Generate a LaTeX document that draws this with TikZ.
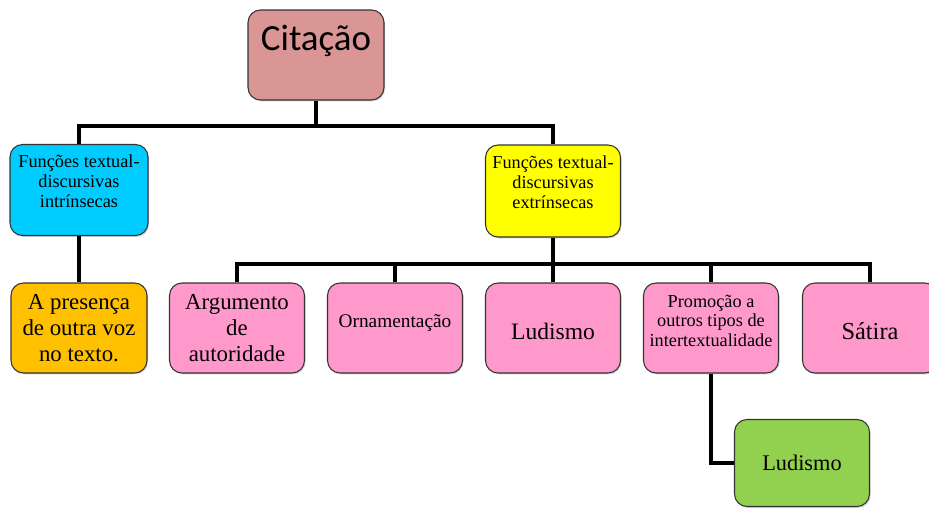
\documentclass[tikz,border=0pt]{standalone}
\usepackage{fontspec}
\setmainfont{Liberation Serif}
\newfontfamily\titlefont{Carlito}
\usetikzlibrary{shadows}

\definecolor{citrose}{HTML}{D99694}
\definecolor{intrcyan}{HTML}{00CCFF}
\definecolor{extryellow}{HTML}{FFFF00}
\definecolor{vozorange}{HTML}{FFC000}
\definecolor{funcpink}{HTML}{FF99CC}
\definecolor{ludgreen}{HTML}{92D050}

\begin{document}
\begin{tikzpicture}[x=0.02cm, y=-0.02cm,
    box/.style={draw=black!80, line width=0.6pt, rounded corners=0.25cm, align=center,
      minimum width=2.7cm, minimum height=1.8cm, inner sep=2pt,
      drop shadow={shadow xshift=0.6pt, shadow yshift=-0.8pt, opacity=0.35}},
    small/.style={font=\fontsize{10.4}{11.2}\selectfont},
    large/.style={font=\fontsize{13}{15}\selectfont},
    link/.style={draw=black, line width=2.2pt}]
    \useasboundingbox (0,0) rectangle (929,508);

    % Root
    \node[box, fill=citrose, minimum width=2.72cm, font=\titlefont\fontsize{21}{24}\selectfont,
      text depth=0.72cm, text height=0.55cm, minimum height=1.8cm] (cit) at (316,55) {Citação};

    % Functions
    \node[box, small, fill=intrcyan, minimum width=2.76cm, minimum height=1.82cm, text depth=0.35cm] (intr) at (79,190)
      {Funções textual-\\discursivas\\intrínsecas};
    \node[box, small, fill=extryellow, minimum height=1.84cm, text depth=0.35cm] (extr) at (553,191)
      {Funções textual-\\discursivas\\extrínsecas};

    % Leaves
    \node[box, large, fill=vozorange, minimum width=2.72cm] (voz) at (79,328)
      {A presença\\de outra voz\\no texto.};
    \node[box, large, fill=funcpink] (arg) at (237,328) {Argumento\\de\\autoridade};
    \node[box, fill=funcpink, font=\fontsize{11}{13}\selectfont, text depth=0.3cm] (orn) at (395,328) {Ornamentação};
    \node[box, fill=funcpink, font=\fontsize{13.4}{15}\selectfont, text height=0.46cm] (lud) at (553,328) {Ludismo};
    \node[box, small, fill=funcpink, text depth=0.29cm] (prom) at (711,328)
      {Promoção a\\outros tipos de\\intertextualidade};
    \node[box, fill=funcpink, font=\fontsize{13.9}{15}\selectfont, text height=0.46cm] (sat) at (870,328) {Sátira};
    \node[box, fill=ludgreen, font=\fontsize{12.7}{15}\selectfont, minimum height=1.74cm] (ludg) at (802,463) {Ludismo};

    % Connectors
    \coordinate (bus1) at (316,126);
    \coordinate (bus2) at (553,264);
    \draw[link] (cit.south) -- (bus1);
    \draw[link] (intr.north) |- (bus1);
    \draw[link] (extr.north) |- (bus1);
    \draw[link] (intr.south) -- (voz.north);
    \draw[link] (extr.south) -- (bus2);
    \foreach \leaf in {arg, orn, lud, prom, sat}
      \draw[link] (\leaf.north) |- (bus2);
    \draw[link] (prom.south) |- (ludg.west);
\end{tikzpicture}
\end{document}
